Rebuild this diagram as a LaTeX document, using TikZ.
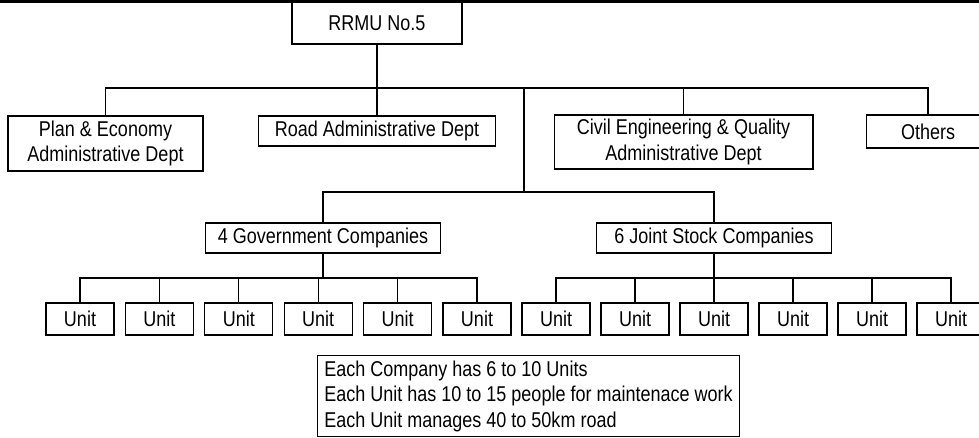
\documentclass[tikz,border=0pt]{standalone}
\usepackage{fontspec}
\setmainfont{Liberation Sans}[FakeStretch=0.84]
\usetikzlibrary{positioning}

\begin{document}
\begin{tikzpicture}[x=0.02cm, y=-0.02cm, font=\fontsize{12.2}{14.5}\selectfont, line width=0.6pt]
    % Define styles
    \tikzstyle{dept} = [rectangle, draw, align=center, inner sep=0pt]
    \tikzstyle{unitbox} = [dept, minimum width=1.36cm, minimum height=0.64cm]
    \tikzstyle{company} = [dept, minimum width=4.7cm, minimum height=0.6cm]

    \useasboundingbox (0,0) rectangle (979,438);
    \clip (0,0) rectangle (979,438);

    % Head line and head office
    \draw[line width=1.8pt] (0,1.5) -- (979,1.5);
    \node[dept, line width=1.2pt, minimum width=3.4cm, minimum height=0.84cm, fill=white] (rrmu) at (377,23) {RRMU No.5};

    % Departments
    \node[dept, minimum width=3.9cm, minimum height=1.1cm] (plan) at (105.5,143.5) {Plan \& Economy\\Administrative Dept};
    \node[dept, minimum width=4.74cm, minimum height=0.6cm] (road) at (377,131) {Road Administrative Dept};
    \node[dept, minimum width=5.18cm, minimum height=1.08cm] (civil) at (683.5,142) {Civil Engineering \& Quality\\Administrative Dept};
    \node[dept, minimum width=2.48cm, minimum height=0.66cm] (others) at (928,131.5) {Others};

    % Companies
    \node[company] (gov) at (323,238) {4 Government Companies};
    \node[company] (jsc) at (714,238) {6 Joint Stock Companies};

    % Units
    \foreach \i in {1,...,6} {
        \node[unitbox] (g\i) at ({80+79.4*(\i-1)},319) {Unit};
        \node[unitbox] (j\i) at ({556+79*(\i-1)},319) {Unit};
    }

    % Note
    \node[draw, align=left, minimum height=1.6cm, inner xsep=0.14cm, inner ysep=0.1cm] (note) at (528.5,396) {Each Company has 6 to 10 Units\\Each Unit has 10 to 15 people for maintenace work\\Each Unit manages 40 to 50km road};

    % Lines
    \coordinate (deptbus) at (0,88);
    \coordinate (split) at (524,88);
    \coordinate (join) at (524,192);
    \coordinate (unitbus) at (0,278);

    \draw (rrmu) -- (road);
    \draw (plan.north) |- (others.north |- deptbus) -- (others.north);
    \draw (civil.north) -- (civil.north |- deptbus);
    \draw (split) -- (join);
    \draw (gov.north) |- (jsc.north |- join) -- (jsc.north);

    \draw (g1.north) |- (g6.north |- unitbus) -- (g6.north);
    \draw (j1.north) |- (j6.north |- unitbus) -- (j6.north);
    \draw (gov.south) -- (gov.south |- unitbus);
    \draw (jsc.south) -- (jsc.south |- unitbus);
    \foreach \i in {2,...,5} {
        \draw (g\i.north) -- (g\i.north |- unitbus);
        \draw (j\i.north) -- (j\i.north |- unitbus);
    }

\end{tikzpicture}
\end{document}
